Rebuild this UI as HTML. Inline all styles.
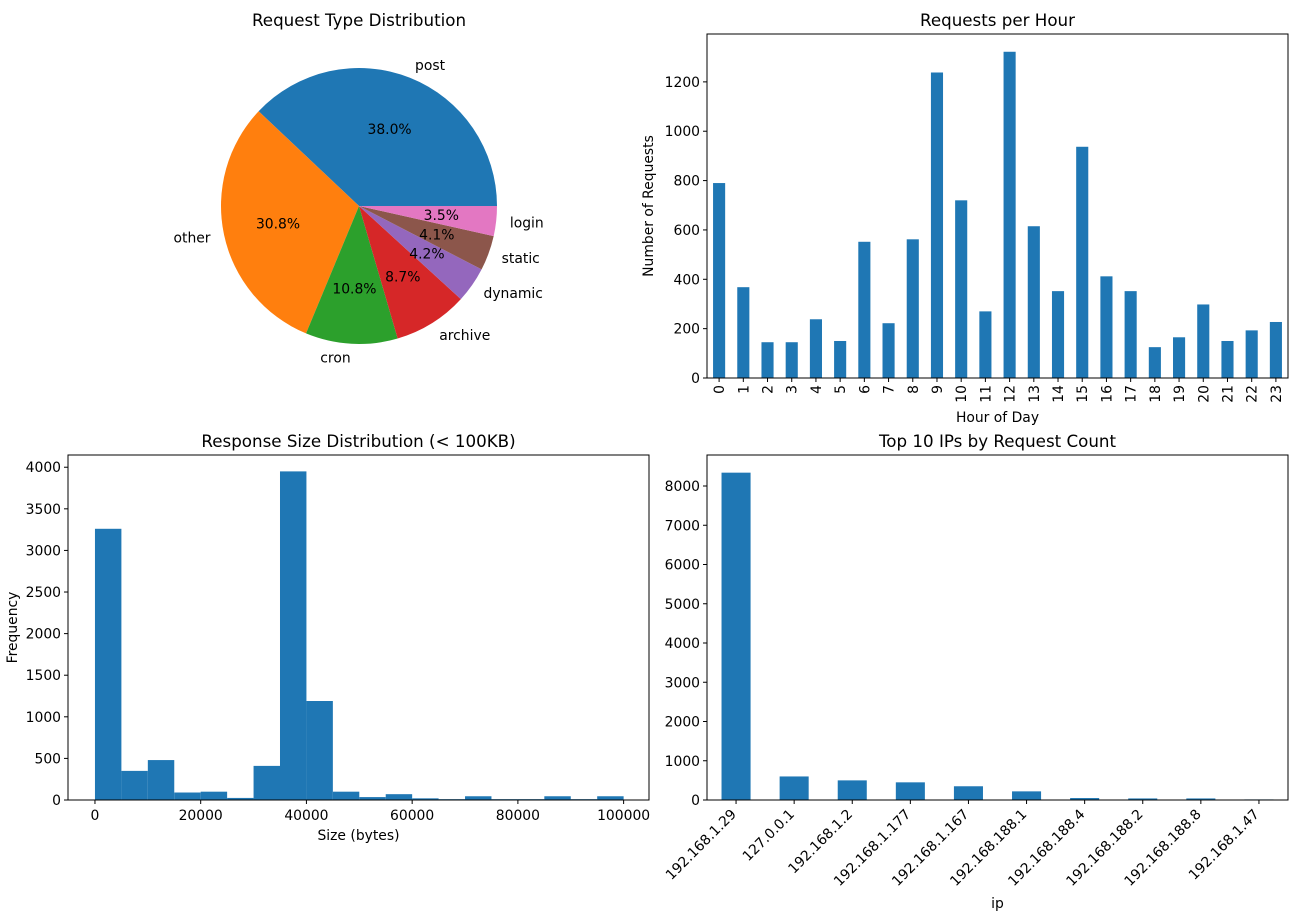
<!DOCTYPE html>
<html><head><meta charset="utf-8"><style>
body{margin:0;background:#fff;}
svg{font-family:"DejaVu Sans","Liberation Sans",sans-serif;}
</style></head><body>
<svg id="s" width="1301" height="915" xmlns="http://www.w3.org/2000/svg"></svg>
<script>
const pieLabels=["post","other","cron","archive","dynamic","static","login"];
const piePcts=[38.0,30.8,10.8,8.7,4.2,4.1,3.5];
const pieColors=["#1f77b4","#ff7f0e","#2ca02c","#d62728","#9467bd","#8c564b","#e377c2"];
const hours=["0","1","2","3","4","5","6","7","8","9","10","11","12","13","14","15","16","17","18","19","20","21","22","23"];
const hourCounts=[790,368,145,145,238,150,552,222,562,1238,720,270,1322,615,352,937,412,352,125,165,298,150,193,227];
const hourTicks=[0,200,400,600,800,1000,1200];
const histCounts=[3260,350,480,90,100,25,410,3950,1190,100,35,70,20,10,45,10,10,45,10,45];
const histBinWidth=5000;
const histXTicks=[0,20000,40000,60000,80000,100000];
const histYTicks=[0,500,1000,1500,2000,2500,3000,3500,4000];
const ips=["192.168.1.29","127.0.0.1","192.168.1.2","192.168.1.177","192.168.1.167","192.168.188.1","192.168.188.4","192.168.188.2","192.168.188.8","192.168.1.47"];
const ipCounts=[8340,600,500,450,350,220,50,40,40,15];
const ipTicks=[0,1000,2000,3000,4000,5000,6000,7000,8000];

const S=document.getElementById('s');
const NS="http://www.w3.org/2000/svg";
const FT=13.9, FTT=16.7;
function mk(t,a,p){const e=document.createElementNS(NS,t);for(const k in a)e.setAttribute(k,a[k]);(p||S).appendChild(e);return e;}
function txt(x,y,s,a,p){const e=mk('text',Object.assign({x:x,y:y,'font-size':FT,fill:'#000'},a||{}),p);e.textContent=s;return e;}

// Pie
(function(){
const g=mk('g',{});


txt(359,26,"Request Type Distribution",{'text-anchor':'middle','font-size':FTT},g);
const cx=359,cy=206,r=138;const tot=piePcts.reduce((a,b)=>a+b,0);
let a0=0;
piePcts.forEach((v,i)=>{
 const a1=a0+v/tot*2*Math.PI;
 const x0=cx+r*Math.cos(a0),y0=cy-r*Math.sin(a0),x1=cx+r*Math.cos(a1),y1=cy-r*Math.sin(a1);
 const p=mk('path',{d:`M${cx},${cy}L${x0},${y0}A${r},${r} 0 ${(a1-a0)>Math.PI?1:0} 0 ${x1},${y1}Z`,fill:pieColors[i]},g);
 
 
 const m=(a0+a1)/2;
 const lx=cx+1.1*r*Math.cos(m),ly=cy-1.1*r*Math.sin(m);
 const l=txt(lx,ly+5,pieLabels[i],{'text-anchor':Math.cos(m)>=0?'start':'end'},g);
 
 
 const px=cx+0.6*r*Math.cos(m),py=cy-0.6*r*Math.sin(m);
 const t=txt(px,py+5,v.toFixed(1)+"%",{'text-anchor':'middle'},g);
 
 
 a0=a1;
});
})();

function axes(name,L,T,R,B,title,ymin,ymax,yticks,ylabel,ylx){
 const g=mk('g',{});
 
 
 const ys=v=>B-(v-ymin)/(ymax-ymin)*(B-T);
 const t=txt((L+R)/2,T-8,title,{'text-anchor':'middle','font-size':FTT},g);
 
 
 yticks.forEach(v=>{const y=ys(v);mk('line',{x1:L-4,x2:L,y1:y,y2:y,stroke:'#000'},g);
  const e=txt(L-7,y+5,String(v),{'text-anchor':'end'},g);
  
  });
 const yl=txt(ylx,(T+B)/2,ylabel,{'text-anchor':'middle',transform:`rotate(-90 ${ylx} ${(T+B)/2})`},g);
 
 
 return {g,ys};
}
function frame(g,L,T,R,B){mk('rect',{x:L,y:T,width:R-L,height:B-T,fill:'none',stroke:'#000','stroke-width':1},g);}

// Requests per hour
(function(){
 const L=707,T=34,R=1288,B=378,ymax=1394;
 const {g,ys}=axes('hourly-bar-chart',L,T,R,B,"Requests per Hour",0,ymax,hourTicks,"Number of Requests",653);
 const n=hours.length,step=(R-L)/n,bw=step*0.5;
 hours.forEach((h,i)=>{const cx=L+step*(i+0.5);
  const b=mk('rect',{x:cx-bw/2,y:ys(hourCounts[i]),width:bw,height:B-ys(hourCounts[i]),fill:'#1f77b4'},g);
  
  
  mk('line',{x1:cx,x2:cx,y1:B,y2:B+4,stroke:'#000'},g);
  const e=txt(cx+5,B+7,h,{'text-anchor':'end',transform:`rotate(-90 ${cx+5} ${B+7})`},g);
  
  });
 const xl=txt((L+R)/2,422,"Hour of Day",{'text-anchor':'middle'},g);
 
 
 frame(g,L,T,R,B);
})();

// Histogram
(function(){
 const L=68,T=455,R=649,B=800,ymax=4147,xmin=-5100,xmax=104800;
 const {g,ys}=axes('size-histogram',L,T,R,B,"Response Size Distribution (< 100KB)",0,ymax,histYTicks,"Frequency",17);
 const xs=v=>L+(v-xmin)/(xmax-xmin)*(R-L);
 histCounts.forEach((c,i)=>{const x0=xs(i*histBinWidth),x1=xs((i+1)*histBinWidth);
  const b=mk('rect',{x:x0,y:ys(c),width:x1-x0,height:B-ys(c),fill:'#1f77b4'},g);
  
  });
 histXTicks.forEach(v=>{const x=xs(v);mk('line',{x1:x,x2:x,y1:B,y2:B+4,stroke:'#000'},g);
  const e=txt(x,B+20,String(v),{'text-anchor':'middle'},g);
  
  });
 const xl=txt((L+R)/2,840,"Size (bytes)",{'text-anchor':'middle'},g);
 
 
 frame(g,L,T,R,B);
})();

// Top IPs
(function(){
 const L=707,T=455,R=1288,B=800,ymax=8790;
 const {g,ys}=axes('top-ip-bar-chart',L,T,R,B,"Top 10 IPs by Request Count",0,ymax,ipTicks,"",0);
 const n=ips.length,step=(R-L)/n,bw=step*0.5;
 ips.forEach((ip,i)=>{const cx=L+step*(i+0.5);
  const b=mk('rect',{x:cx-bw/2,y:ys(ipCounts[i]),width:bw,height:B-ys(ipCounts[i]),fill:'#1f77b4'},g);
  
  
  mk('line',{x1:cx,x2:cx,y1:B,y2:B+4,stroke:'#000'},g);
  const e=txt(cx+1,B+15,ip,{'text-anchor':'end',transform:`rotate(-45 ${cx+1} ${B+15})`},g);
  
  });
 const xl=txt((L+R)/2,908,"ip",{'text-anchor':'middle'},g);
 
 
 frame(g,L,T,R,B);
})();
</script>
</body></html>
